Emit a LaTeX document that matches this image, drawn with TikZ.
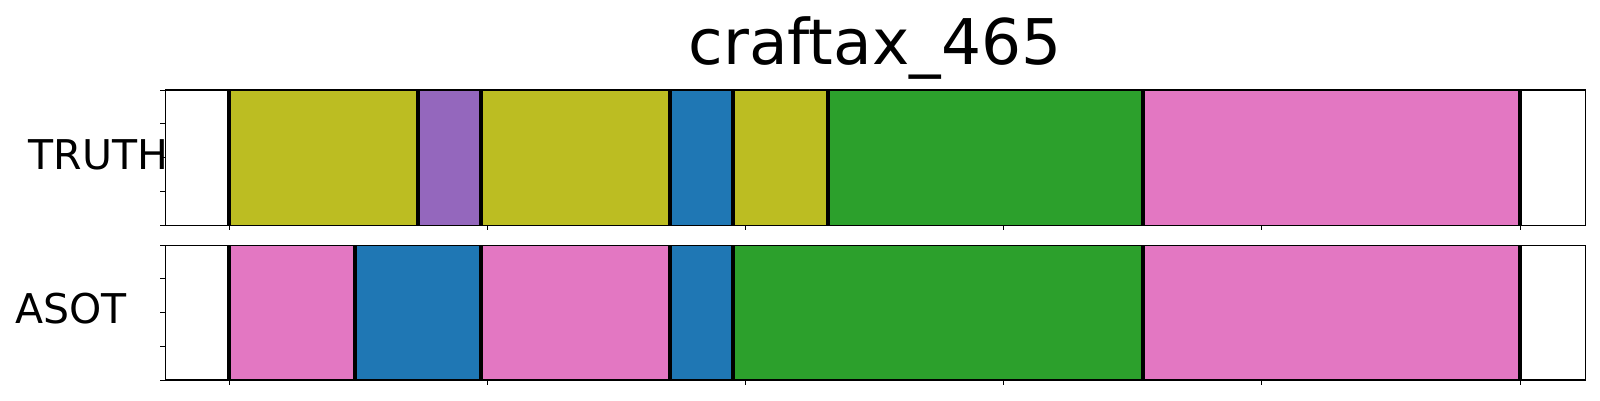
\documentclass[tikz,border=0pt]{standalone}
\usepackage{fontspec}
\setmainfont{DejaVu Sans}
\definecolor{tolive}{HTML}{BCBD22}
\definecolor{tpurple}{HTML}{9467BD}
\definecolor{tblue}{HTML}{1F77B4}
\definecolor{tgreen}{HTML}{2CA02C}
\definecolor{tpink}{HTML}{E377C2}
\begin{document}
\begin{tikzpicture}[x=1pt,y=-1pt,
  bound/.style={line width=4pt,black},
  frame/.style={line width=1.3pt,black},
  tickline/.style={line width=1pt,black},
  lbl/.style={anchor=base west,inner sep=0pt,font=\fontsize{41}{41}\selectfont}]
\useasboundingbox[fill=white] (0,0) rectangle (1600,400);
% ---- TRUTH row
\foreach \a/\b/\c in {229/418/tolive,418/481/tpurple,481/670/tolive,670/733/tblue,733/827.7/tolive,827.7/1143/tgreen,1143/1520/tpink}
  \fill[\c] (\a,90) rectangle (\b,225.3);
\foreach \x in {229,418,481,670,733,827.7,1143,1520}
  \draw[bound] (\x,90) -- (\x,225.3);
\draw[frame] (165.3,90) rectangle (1585.3,225.3);
\foreach \k in {0,...,5}
  \draw[tickline] ({229+258.2*\k},225.3) -- ({229+258.2*\k},230.3);
\foreach \k in {0,...,4}
  \draw[tickline] (165.3,{90+33.825*\k}) -- (160.3,{90+33.825*\k});
% ---- ASOT row
\foreach \a/\b/\c in {229/355/tpink,355/481/tblue,481/670/tpink,670/733/tblue,733/1143/tgreen,1143/1520/tpink}
  \fill[\c] (\a,245.3) rectangle (\b,380);
\foreach \x in {229,355,481,670,733,1143,1520}
  \draw[bound] (\x,245.3) -- (\x,380);
\draw[frame] (165.3,245.3) rectangle (1585.3,380);
\foreach \k in {0,...,5}
  \draw[tickline] ({229+258.2*\k},380) -- ({229+258.2*\k},385);
\foreach \k in {0,...,4}
  \draw[tickline] (165.3,{245.3+33.675*\k}) -- (160.3,{245.3+33.675*\k});
% ---- labels
\node[lbl] (truthlbl) at (28.5,169.3) {TRUTH};
\node[lbl] (asotlbl) at (15,323.3) {ASOT};
\node[anchor=base,inner sep=0pt,font=\fontsize{63}{63}\selectfont] (title) at (875,64) {craftax\_465};
\end{tikzpicture}
\end{document}
